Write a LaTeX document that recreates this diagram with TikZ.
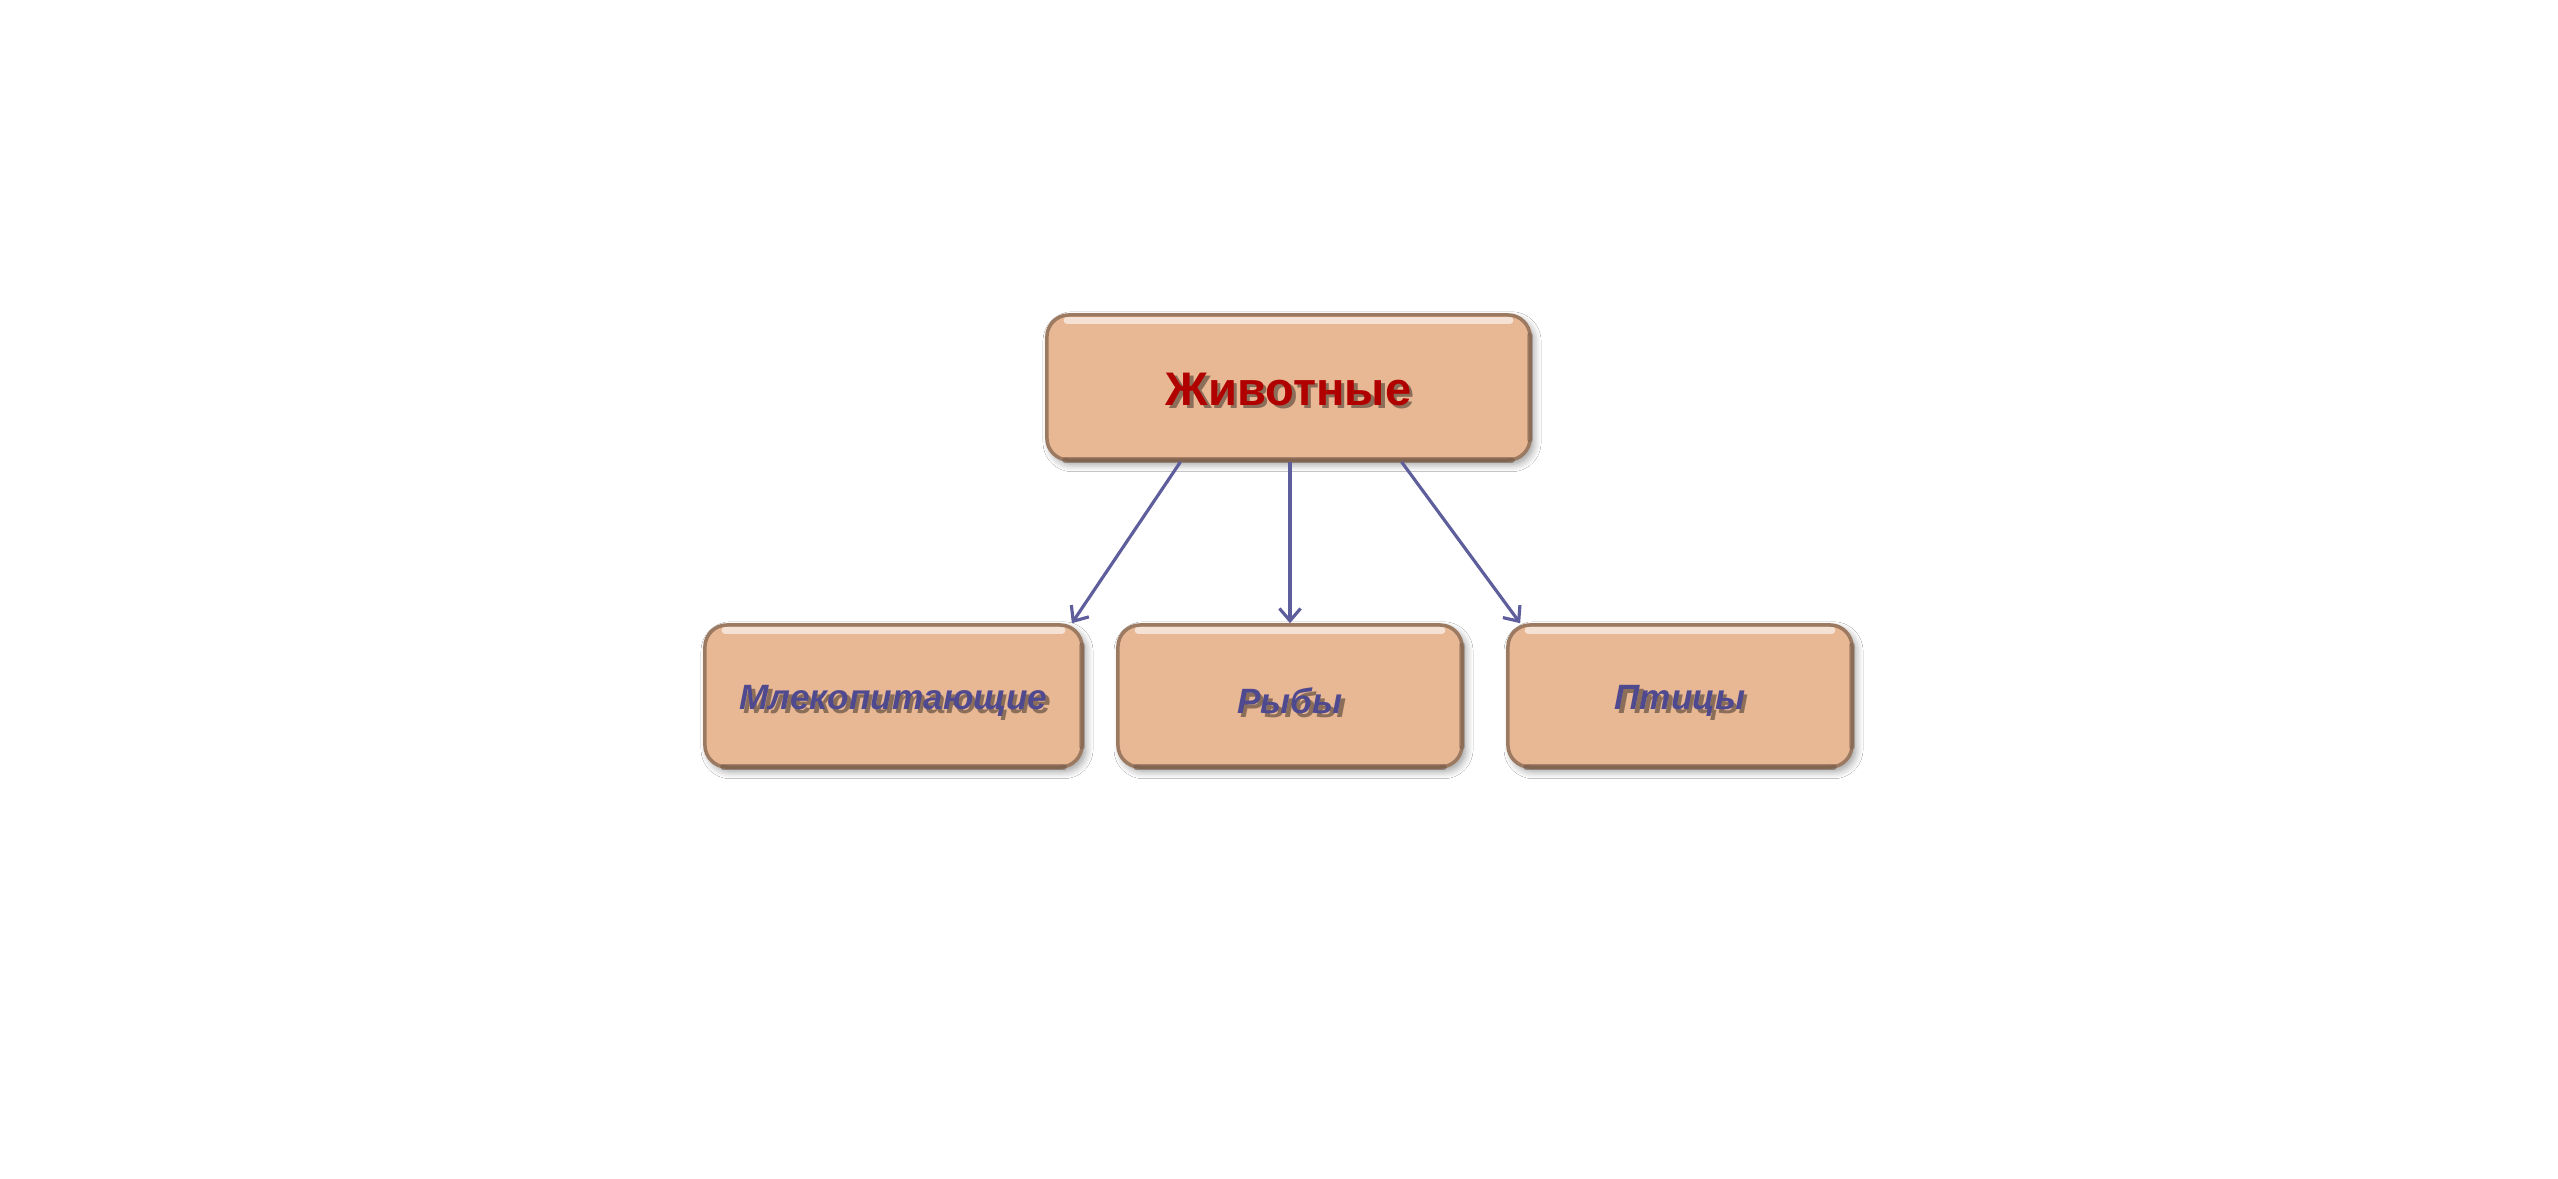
\documentclass[tikz,border=0pt]{standalone}
\usepackage{fontspec}
\setmainfont{Liberation Sans}
\usetikzlibrary{arrows.meta,calc,shadows.blur}
\definecolor{boxfill}{HTML}{E8B794}
\definecolor{boxedge}{HTML}{9C7A62}
\definecolor{boxdark}{HTML}{6E5444}
\definecolor{toptext}{HTML}{B00000}
\definecolor{subtext}{HTML}{4F4A8F}
\definecolor{arrowcol}{HTML}{5E5E9C}
\colorlet{textshade}{black!40!boxfill}
\newcommand{\shadowtext}[3]{\raisebox{-#1}[\height][\depth]{\makebox[0pt][l]{\hspace{1pt}\raisebox{-1pt}{\color{textshade}#3}}{\color{#2}#3}}}
\tikzset{
  bevelbox/.style={draw=boxedge, line width=1pt, fill=boxfill, rounded corners=0.22cm,
    inner sep=0pt, blur shadow={shadow xshift=1pt, shadow yshift=-1.2pt, shadow blur steps=8, shadow opacity=40}},
  topbox/.style={bevelbox, minimum width=4.83cm, minimum height=1.45cm,
    font=\fontsize{13.4pt}{16pt}\selectfont\bfseries},
  subbox/.style={bevelbox, minimum height=1.42cm,
    font=\fontsize{10pt}{12pt}\selectfont\bfseries\itshape},
  link/.style={draw=arrowcol, line width=0.9pt, -{Straight Barb[length=3.5pt,width=6pt]}},
  highlight/.style={draw=white, opacity=0.6, line width=2pt, line cap=round},
  lowshade/.style={draw=boxdark, opacity=0.55, line width=1.6pt, line cap=round}
}
\begin{document}
\begin{tikzpicture}[x=0.01cm,y=0.01cm]
\useasboundingbox[fill=white] (0,0) rectangle (2558,-1178);
\node[topbox] (top) at (1288.5,-387.5) {\shadowtext{1pt}{toptext}{Животные}};
\node[subbox, minimum width=3.77cm] (b1) at (893.5,-696) {\shadowtext{1.9pt}{subtext}{Млекопитающие}};
\node[subbox, minimum width=3.44cm] (b2) at (1290,-696) {\shadowtext{1.9pt}{subtext}{Рыбы}};
\node[subbox, minimum width=3.44cm] (b3) at (1680,-696) {\shadowtext{1.9pt}{subtext}{Птицы}};
% bevel highlights and lower shade
\foreach \n in {top,b1,b2,b3}{
  \draw[highlight] ($(\n.north west)+(22,-7)$) -- ($(\n.north east)+(-22,-7)$);
  \draw[lowshade] ($(\n.south west)+(20,2)$) -- ($(\n.south east)+(-20,2)$);
  \draw[lowshade, opacity=0.35] ($(\n.north east)+(-2,-22)$) -- ($(\n.south east)+(-2,22)$);
}
\draw[link] ($(top.south)+(-108,0)$) -- ($(b1.north east)+(-12,0)$);
\draw[link] ($(top.south)+(1.5,0)$) -- (b2.north);
\draw[link] ($(top.south)+(113,0)$) -- ($(b3.north west)+(14,0)$);
\end{tikzpicture}
\end{document}
